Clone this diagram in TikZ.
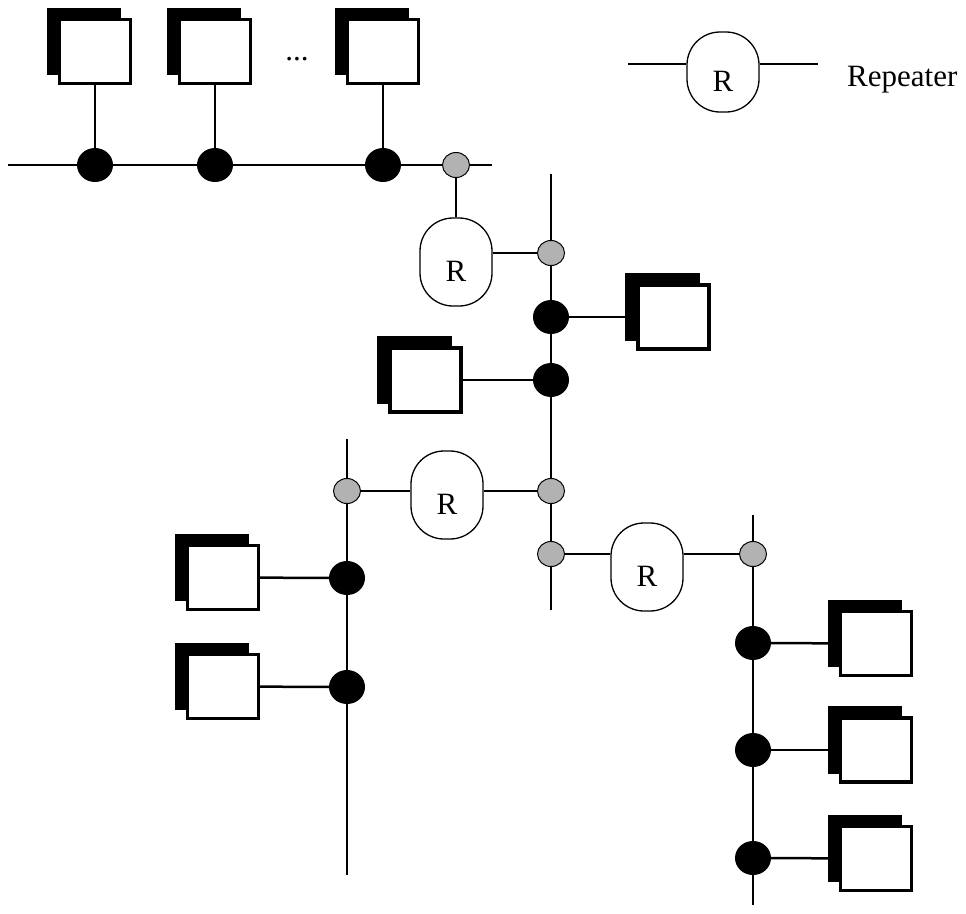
\documentclass[tikz,border=0pt]{standalone}
\usepackage{fontspec}
\setmainfont{Liberation Serif}
\usetikzlibrary{shapes.geometric,shadows}
\newcommand{\Rtext}{\fontsize{31}{36}\selectfont\smash{\raisebox{-19pt}{R}}}
\begin{document}
\begin{tikzpicture}[x=1pt,y=-1pt,
  bus/.style={line width=2.5pt},
  station/.style={draw, line width=3.2pt, fill=white, minimum width=71pt, minimum height=64pt, inner sep=0pt,
    general shadow={fill=black, draw=black, shadow xshift=-11pt, shadow yshift=10pt}},
  tap/.style={ellipse, fill=black, minimum width=36pt, minimum height=34pt, inner sep=0pt},
  port/.style={ellipse, draw=black, line width=1pt, fill=black!30, minimum width=27pt, minimum height=25pt, inner sep=0pt},
  repeater/.style={draw, line width=1.3pt, fill=white, rounded corners=33pt, minimum width=72pt, minimum height=88pt, inner sep=0pt},
  lbl/.style={font=\fontsize{31}{36}\selectfont, inner sep=0pt},
]
\useasboundingbox (0,0) rectangle (966,913);

% top segment
\node[station] (S1) at (95,51.5) {};
\node[station] (S2) at (215,51.5) {};
\node[station] (S3) at (383,51.5) {};
\node[font=\fontsize{31}{36}\selectfont, inner sep=0pt, anchor=base] (dots) at (297,60) {...};
\node[tap] (T1) at (95,165) {};
\node[tap] (T2) at (215,165) {};
\node[tap] (T3) at (383,165) {};
\node[port] (P0) at (456,165) {};
\coordinate (a0) at (8,165);
\coordinate (a1) at (492,165);
\draw[bus] (a0) -- (T1) -- (T2) -- (T3) -- (P0) -- (a1);
\draw[bus] (S1) -- (T1);
\draw[bus] (S2) -- (T2);
\draw[bus] (S3) -- (T3);

% repeater 1 and segment 2
\node[repeater] (R1) at (456,262) {\Rtext};
\node[port] (P1) at (551,253) {};
\node[tap] (T4) at (551,317) {};
\node[tap] (T5) at (551,380) {};
\node[port] (P2) at (551,491) {};
\node[port] (P3) at (551,554) {};
\coordinate (b0) at (551,174);
\coordinate (b1) at (551,610);
\draw[bus] (b0) -- (P1) -- (T4) -- (T5) -- (P2) -- (P3) -- (b1);
\draw[bus] (P0) -- (R1.north);
\draw[bus] (P1) -- (P1 -| R1.east);
\node[station] (S4) at (673.5,317) {};
\node[station] (S5) at (425.5,380) {};
\draw[bus] (S4) -- (T4);
\draw[bus] (S5) -- (T5);

% repeater 2 and segment 3
\node[repeater] (R2) at (447,495) {\Rtext};
\node[port] (P4) at (347,491) {};
\node[tap] (T6) at (347,578) {};
\node[tap] (T7) at (347,687) {};
\coordinate (c0) at (347,439);
\coordinate (c1) at (347,875);
\draw[bus] (c0) -- (P4) -- (T6) -- (T7) -- (c1);
\draw[bus] (P4) -- (P4 -| R2.west);
\draw[bus] (P2) -- (P2 -| R2.east);
\node[station] (S6) at (223,577.5) {};
\node[station] (S7) at (223,686.5) {};
\draw[bus] (S6) -- (T6);
\draw[bus] (S7) -- (T7);

% repeater 3 and segment 4
\node[repeater] (R3) at (647,567) {\Rtext};
\node[port] (P5) at (753,554) {};
\node[tap] (T8) at (753,643) {};
\node[tap] (T9) at (753,750) {};
\node[tap] (T10) at (753,858) {};
\coordinate (d0) at (753,515);
\coordinate (d1) at (753,905);
\draw[bus] (d0) -- (P5) -- (T8) -- (T9) -- (T10) -- (d1);
\draw[bus] (P3) -- (P3 -| R3.west);
\draw[bus] (P5) -- (P5 -| R3.east);
\node[station] (S8) at (876,643.5) {};
\node[station] (S9) at (876,750) {};
\node[station] (S10) at (876,858.5) {};
\draw[bus] (S8) -- (T8);
\draw[bus] (S9) -- (T9);
\draw[bus] (S10) -- (T10);

% legend
\node[repeater, minimum height=80pt] (L) at (723,72) {\Rtext};
\coordinate (la) at (628,64);
\coordinate (lb) at (818,64);
\draw[bus] (la) -- (la -| L.west);
\draw[bus] (lb) -- (lb -| L.east);
\node[lbl, anchor=base west] (Ltext) at (847,86) {Repeater};
\end{tikzpicture}
\end{document}
